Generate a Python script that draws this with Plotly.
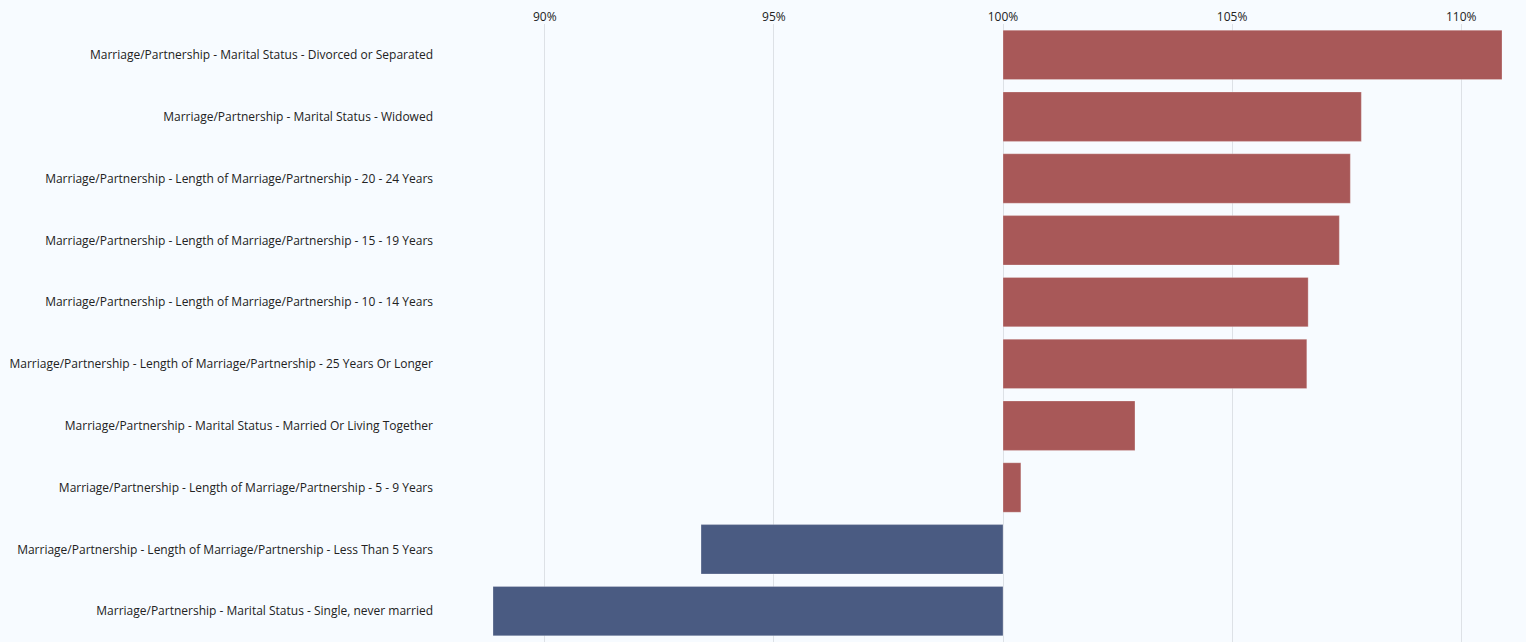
import plotly.graph_objects as go

categories = [
    "Marriage/Partnership - Marital Status - Divorced or Separated",
    "Marriage/Partnership - Marital Status - Widowed",
    "Marriage/Partnership - Length of Marriage/Partnership - 20 - 24 Years",
    "Marriage/Partnership - Length of Marriage/Partnership - 15 - 19 Years",
    "Marriage/Partnership - Length of Marriage/Partnership - 10 - 14 Years",
    "Marriage/Partnership - Length of Marriage/Partnership - 25 Years Or Longer",
    "Marriage/Partnership - Marital Status - Married Or Living Together",
    "Marriage/Partnership - Length of Marriage/Partnership - 5 - 9 Years",
    "Marriage/Partnership - Length of Marriage/Partnership - Less Than 5 Years",
    "Marriage/Partnership - Marital Status - Single, never married",
]
values = [110.89, 107.82, 107.58, 107.34, 106.66, 106.63, 102.88, 100.39, 93.41, 88.87]
baseline = 100
tick_vals = [90, 95, 100, 105, 110]
tick_text = ["90%", "95%", "100%", "105%", "110%"]

RED = "#a85858"
BLUE = "#4a5b82"
colors = [RED if v >= baseline else BLUE for v in values]

fig = go.Figure(go.Bar(
    y=categories,
    x=[v - baseline for v in values],
    base=baseline,
    orientation="h",
    marker=dict(color=colors, line=dict(color="rgba(255,255,255,0.25)", width=1)),
    hovertemplate="%{y}: %{x}<extra></extra>",
))

fig.update_layout(
    width=1526, height=642,
    margin=dict(l=493, r=24, t=24, b=0),
    paper_bgcolor="#f7fbff",
    plot_bgcolor="#f7fbff",
    bargap=0.2,
    showlegend=False,
    font=dict(family="Open Sans", size=12, color="#222222"),
)
fig.update_xaxes(
    side="top",
    range=[min(values), max(values)],
    tickvals=tick_vals, ticktext=tick_text,
    showgrid=True, gridcolor="#dde1e6", gridwidth=1,
    zeroline=False, showline=False, ticks="",
    tickfont=dict(size=12, color="#222222"),
)
fig.update_yaxes(
    autorange="reversed",
    showgrid=False, zeroline=False, showline=False, ticks="",
    ticklabelstandoff=59,
    tickfont=dict(size=12, color="#222222"),
)

fig.write_html("out.html")
